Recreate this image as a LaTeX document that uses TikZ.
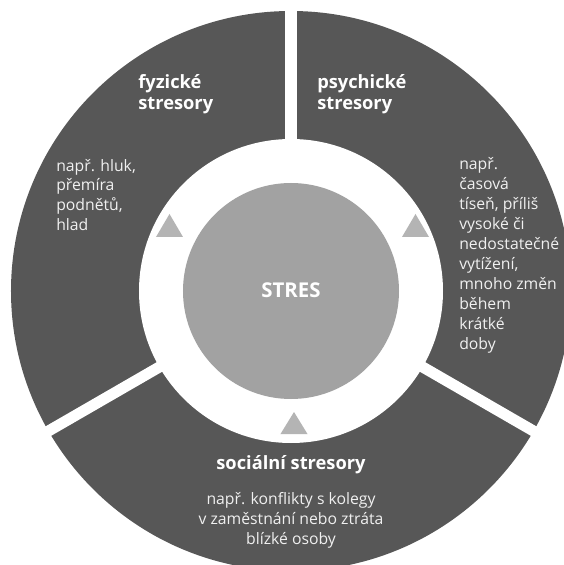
\documentclass[tikz,border=0pt]{standalone}
\usepackage{fontspec}
\setmainfont{Open Sans}
\definecolor{ringgray}{HTML}{575757}
\definecolor{coregray}{HTML}{A2A2A2}
\definecolor{triangray}{HTML}{B4B4B4}
\tikzset{
	head/.style={text=white,font=\bfseries\fontsize{13}{15}\selectfont,inner sep=0pt},
	note/.style={text=white!94!black,font=\fontsize{11.2}{14.2}\selectfont,inner sep=0pt},
	marker/.style={fill=triangray}
}
\begin{document}
\begin{tikzpicture}[x=0.025cm,y=0.025cm]
		\useasboundingbox (-291,-274) rectangle (273,291);
		\coordinate (O) at (0,0);
		\fill [ringgray] (O) circle (280);
		\fill [white] (O) circle (152);
		\fill [coregray] (O) circle (108);
		% gaps between the three sectors
		\draw [white,line width=0.275cm] (90:140) to (90:295);
		\draw [white,line width=0.275cm] (210:140) to (210:295);
		\draw [white,line width=0.275cm] (330:140) to (330:295);
		% triangles in the white ring
		\fill [marker] (-135,54) -- (-108,54) -- (-121.5,77) -- cycle;
		\fill [marker] (111,54) -- (138,54) -- (124.5,77) -- cycle;
		\fill [marker] (-10.5,-143) -- (16.5,-143) -- (3,-121) -- cycle;
		\node [head,font=\bfseries\fontsize{14.5}{16}\selectfont] (stres) at (0,1) {STRES};
		\node [head,anchor=west,align=left] (fyz) at (-153,197) {fyzické\\stresory};
		\node [head,anchor=west,align=left] (psy) at (26,197) {psychické\\stresory};
		\node [head] (soc) at (0,-174) {sociální stresory};
		\node [note,anchor=west,align=left] (fyzex) at (-235,96) {např. hluk,\\přemíra\\podnětů,\\hlad};
		\node [note,anchor=west,align=left] (psyex) at (168,35.5) {např.\\časová\\tíseň, příliš\\vysoké či\\nedostatečné\\vytížení,\\mnoho změn\\během\\krátké\\doby};
		\node [note,align=center] (socex) at (0,-229) {např. konflikty s kolegy\\v zaměstnání nebo ztráta\\blízké osoby};
	\end{tikzpicture}
\end{document}
